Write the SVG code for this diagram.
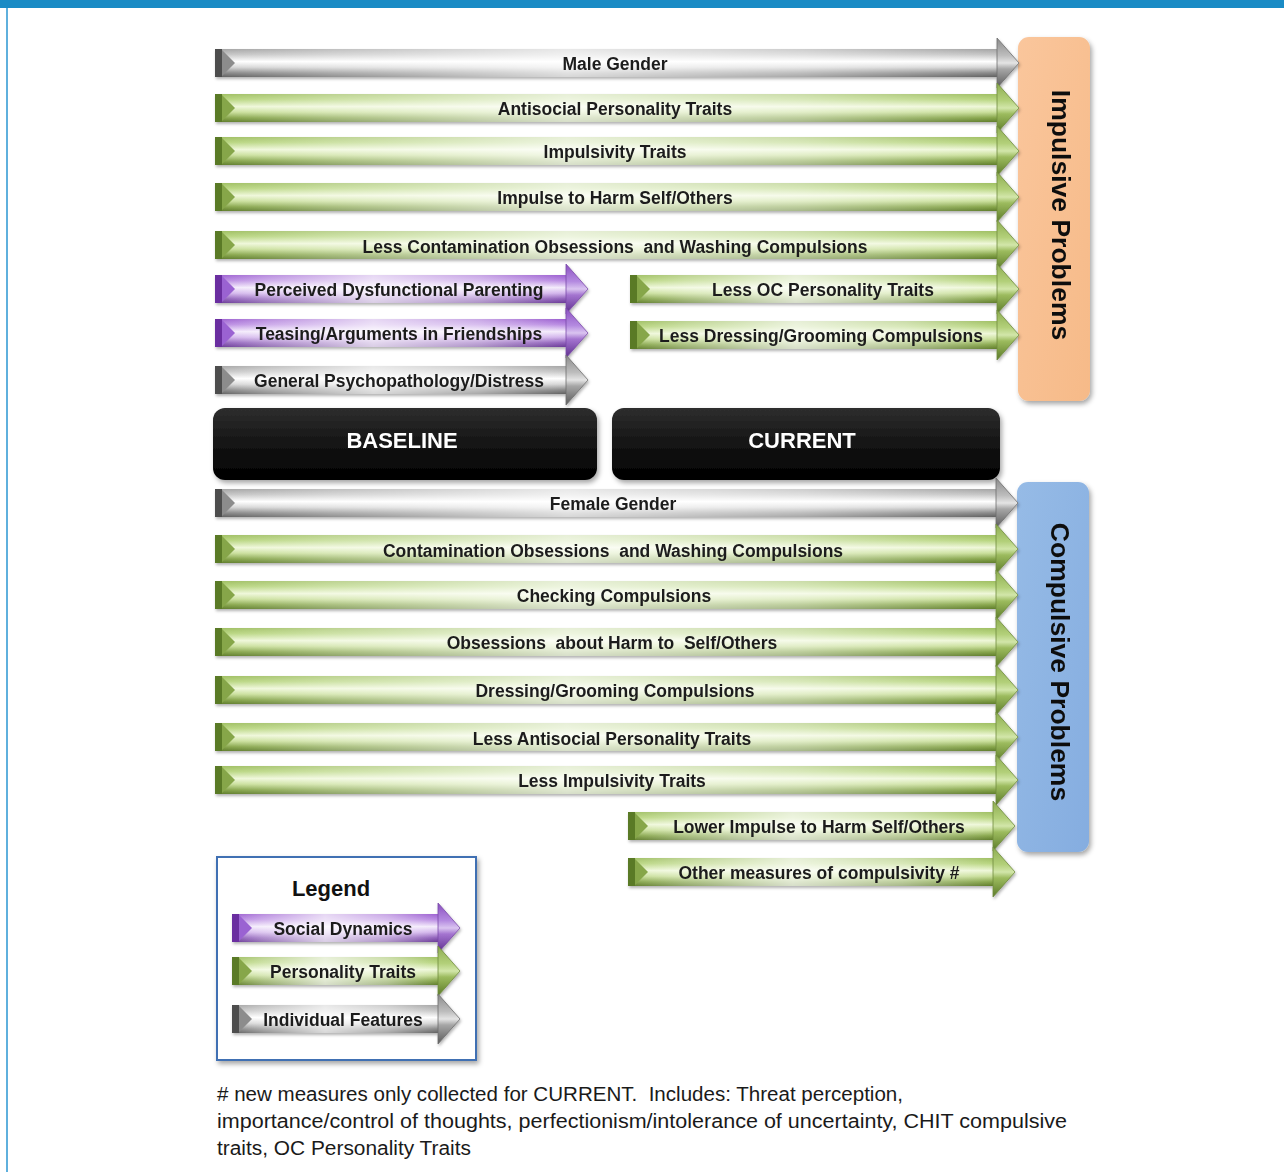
<svg xmlns="http://www.w3.org/2000/svg" xmlns:xlink="http://www.w3.org/1999/xlink" width="1284" height="1172" viewBox="0 0 1284 1172">
<defs>
  <linearGradient id="vGreen" x1="0" y1="0" x2="0" y2="1">
    <stop offset="0" stop-color="#9fbf62"/>
    <stop offset="0.2" stop-color="#b9d681"/>
    <stop offset="0.45" stop-color="#eef7d8"/>
    <stop offset="0.65" stop-color="#c9df9a"/>
    <stop offset="0.85" stop-color="#86a54a"/>
    <stop offset="1" stop-color="#5f7d2a"/>
  </linearGradient>
  <linearGradient id="vGray" x1="0" y1="0" x2="0" y2="1">
    <stop offset="0" stop-color="#a4a4a4"/>
    <stop offset="0.2" stop-color="#c6c6c6"/>
    <stop offset="0.45" stop-color="#ffffff"/>
    <stop offset="0.65" stop-color="#d6d6d6"/>
    <stop offset="0.85" stop-color="#8a8a8a"/>
    <stop offset="1" stop-color="#606060"/>
  </linearGradient>
  <linearGradient id="vPurple" x1="0" y1="0" x2="0" y2="1">
    <stop offset="0" stop-color="#9b5ed0"/>
    <stop offset="0.2" stop-color="#b98ae2"/>
    <stop offset="0.45" stop-color="#f3eafb"/>
    <stop offset="0.65" stop-color="#d2b4ec"/>
    <stop offset="0.85" stop-color="#8f5fba"/>
    <stop offset="1" stop-color="#693996"/>
  </linearGradient>
  <linearGradient id="hGreen" x1="0" y1="0" x2="0" y2="1">
    <stop offset="0" stop-color="#8dac50"/>
    <stop offset="0.35" stop-color="#b3d07a"/>
    <stop offset="0.5" stop-color="#d2e6aa"/>
    <stop offset="0.62" stop-color="#9cbb5e"/>
    <stop offset="1" stop-color="#5b7a28"/>
  </linearGradient>
  <linearGradient id="hGray" x1="0" y1="0" x2="0" y2="1">
    <stop offset="0" stop-color="#8a8a8a"/>
    <stop offset="0.35" stop-color="#bdbdbd"/>
    <stop offset="0.5" stop-color="#e4e4e4"/>
    <stop offset="0.62" stop-color="#a6a6a6"/>
    <stop offset="1" stop-color="#5a5a5a"/>
  </linearGradient>
  <linearGradient id="hPurple" x1="0" y1="0" x2="0" y2="1">
    <stop offset="0" stop-color="#8a4fc0"/>
    <stop offset="0.35" stop-color="#b48ae0"/>
    <stop offset="0.5" stop-color="#dac4f0"/>
    <stop offset="0.62" stop-color="#a474d0"/>
    <stop offset="1" stop-color="#5c2d8c"/>
  </linearGradient>
  <linearGradient id="sheen" x1="0" y1="0" x2="1" y2="0">
    <stop offset="0" stop-color="#ffffff" stop-opacity="0"/>
    <stop offset="0.15" stop-color="#ffffff" stop-opacity="0.3"/>
    <stop offset="0.45" stop-color="#ffffff" stop-opacity="0.75"/>
    <stop offset="0.75" stop-color="#ffffff" stop-opacity="0.45"/>
    <stop offset="1" stop-color="#ffffff" stop-opacity="0"/>
  </linearGradient>
  <linearGradient id="blackBox" x1="0" y1="0" x2="0" y2="1">
    <stop offset="0" stop-color="#2e2e2e"/>
    <stop offset="0.5" stop-color="#141414"/>
    <stop offset="1" stop-color="#000000"/>
  </linearGradient>
  <linearGradient id="orangeFill" x1="0" y1="0" x2="1" y2="1">
    <stop offset="0" stop-color="#fac69c"/>
    <stop offset="1" stop-color="#f6ba88"/>
  </linearGradient>
  <linearGradient id="blueFill" x1="0" y1="0" x2="1" y2="1">
    <stop offset="0" stop-color="#96bbe6"/>
    <stop offset="1" stop-color="#85ade0"/>
  </linearGradient>
  <filter id="sh" x="-5%" y="-30%" width="110%" height="170%">
    <feDropShadow dx="1" dy="2" stdDeviation="1.5" flood-color="#000" flood-opacity="0.3"/>
  </filter>
  <filter id="boxsh" x="-10%" y="-10%" width="125%" height="125%">
    <feDropShadow dx="2" dy="3" stdDeviation="2.5" flood-color="#000" flood-opacity="0.35"/>
  </filter>
  <path id="headGreen" d="M0,-25 L22,0 L0,25 Z" fill="url(#hGreen)" stroke="#6f8a3c" stroke-width="0.8"/>
  <path id="headGray" d="M0,-25 L22,0 L0,25 Z" fill="url(#hGray)" stroke="#6d6d6d" stroke-width="0.8"/>
  <path id="headPurple" d="M0,-25 L22,0 L0,25 Z" fill="url(#hPurple)" stroke="#7a4aa8" stroke-width="0.8"/>
  <g id="capGreen"><rect x="0" y="-14" width="7" height="28" fill="#5a7a26"/><polygon points="7,-13 20,0 7,13" fill="#86a64a"/></g>
  <g id="capGray"><rect x="0" y="-14" width="7" height="28" fill="#4e4e4e"/><polygon points="7,-13 20,0 7,13" fill="#8c8c8c"/></g>
  <g id="capPurple"><rect x="0" y="-14" width="7" height="28" fill="#6a2ea0"/><polygon points="7,-13 20,0 7,13" fill="#9a62d2"/></g>
</defs>
<style>
  .lbl { font-family: "Liberation Sans", Arial, sans-serif; font-weight: bold; font-size: 17.5px; fill: #1c1c1c; text-anchor: middle; white-space: pre; }
  .sg { fill: url(#vGreen); }
  .sy { fill: url(#vGray); }
  .sp { fill: url(#vPurple); }
  .sheen { fill: url(#sheen); }
  .hdr { font-family: "Liberation Sans", Arial, sans-serif; font-weight: bold; font-size: 22px; fill: #ffffff; text-anchor: middle; }
  .side { font-family: "Liberation Sans", Arial, sans-serif; font-weight: bold; font-size: 26.5px; fill: #111111; text-anchor: middle; }
  .note { font-family: "Liberation Sans", Arial, sans-serif; font-size: 20px; fill: #1a1a1a; white-space: pre; }
</style>

<!-- frame -->
<rect x="0" y="0" width="1284" height="8" fill="#1a8bc5"/>
<rect x="6" y="8" width="2" height="1164" fill="#5fb0dd"/>

<!-- outcome boxes -->
<g id="impulsive" filter="url(#boxsh)">
  <rect x="1018" y="37" width="72" height="364" rx="11" fill="url(#orangeFill)"/>
  <text class="side" transform="translate(1052,215) rotate(90)">Impulsive Problems</text>
</g>
<g id="compulsive" filter="url(#boxsh)">
  <rect x="1017" y="482" width="72" height="370" rx="11" fill="url(#blueFill)"/>
  <text class="side" transform="translate(1051,662) rotate(90)">Compulsive Problems</text>
</g>

<!-- baseline / current -->
<g id="baseline" filter="url(#boxsh)">
  <rect x="213" y="408" width="384" height="72" rx="12" fill="url(#blackBox)"/>
  <text class="hdr" x="402" y="448">BASELINE</text>
</g>
<g id="current" filter="url(#boxsh)">
  <rect x="612" y="408" width="388" height="72" rx="12" fill="url(#blackBox)"/>
  <text class="hdr" x="802" y="448">CURRENT</text>
</g>

<!-- arrows (connectors) -->
<g id="connectors">
  <!-- top full-width -->
  <g id="a-male" transform="translate(215,63)" filter="url(#sh)">
    <rect class="sy" x="0" y="-14" width="783" height="28"/><rect class="sheen" x="0" y="-14" width="783" height="28"/>
    <use href="#headGray" x="782"/><use href="#capGray"/>
    <text class="lbl" x="400" y="7">Male Gender</text>
  </g>
  <g id="a-antisocial" transform="translate(215,108)" filter="url(#sh)">
    <rect class="sg" x="0" y="-14" width="783" height="28"/><rect class="sheen" x="0" y="-14" width="783" height="28"/>
    <use href="#headGreen" x="782"/><use href="#capGreen"/>
    <text class="lbl" x="400" y="7">Antisocial Personality Traits</text>
  </g>
  <g id="a-impulsivity" transform="translate(215,151)" filter="url(#sh)">
    <rect class="sg" x="0" y="-14" width="783" height="28"/><rect class="sheen" x="0" y="-14" width="783" height="28"/>
    <use href="#headGreen" x="782"/><use href="#capGreen"/>
    <text class="lbl" x="400" y="7">Impulsivity Traits</text>
  </g>
  <g id="a-impulseharm" transform="translate(215,197)" filter="url(#sh)">
    <rect class="sg" x="0" y="-14" width="783" height="28"/><rect class="sheen" x="0" y="-14" width="783" height="28"/>
    <use href="#headGreen" x="782"/><use href="#capGreen"/>
    <text class="lbl" x="400" y="7">Impulse to Harm Self/Others</text>
  </g>
  <g id="a-lesscontam" transform="translate(215,245)" filter="url(#sh)">
    <rect class="sg" x="0" y="-14" width="783" height="28"/><rect class="sheen" x="0" y="-14" width="783" height="28"/>
    <use href="#headGreen" x="782"/><use href="#capGreen"/>
    <text class="lbl" x="400" y="8">Less Contamination Obsessions  and Washing Compulsions</text>
  </g>
  <!-- left half -->
  <g id="a-parenting" transform="translate(215,289)" filter="url(#sh)">
    <rect class="sp" x="0" y="-14" width="352" height="28"/><rect class="sheen" x="0" y="-14" width="352" height="28"/>
    <use href="#headPurple" x="351"/><use href="#capPurple"/>
    <text class="lbl" x="184" y="7">Perceived Dysfunctional Parenting</text>
  </g>
  <g id="a-teasing" transform="translate(215,333)" filter="url(#sh)">
    <rect class="sp" x="0" y="-14" width="352" height="28"/><rect class="sheen" x="0" y="-14" width="352" height="28"/>
    <use href="#headPurple" x="351"/><use href="#capPurple"/>
    <text class="lbl" x="184" y="7">Teasing/Arguments in Friendships</text>
  </g>
  <g id="a-psychopath" transform="translate(215,380)" filter="url(#sh)">
    <rect class="sy" x="0" y="-14" width="352" height="28"/><rect class="sheen" x="0" y="-14" width="352" height="28"/>
    <use href="#headGray" x="351"/><use href="#capGray"/>
    <text class="lbl" x="184" y="7">General Psychopathology/Distress</text>
  </g>
  <!-- right half top -->
  <g id="a-lessoc" transform="translate(630,289)" filter="url(#sh)">
    <rect class="sg" x="0" y="-14" width="368" height="28"/><rect class="sheen" x="0" y="-14" width="368" height="28"/>
    <use href="#headGreen" x="367"/><use href="#capGreen"/>
    <text class="lbl" x="193" y="7">Less OC Personality Traits</text>
  </g>
  <g id="a-lessdressing" transform="translate(630,335)" filter="url(#sh)">
    <rect class="sg" x="0" y="-14" width="368" height="28"/><rect class="sheen" x="0" y="-14" width="368" height="28"/>
    <use href="#headGreen" x="367"/><use href="#capGreen"/>
    <text class="lbl" x="191" y="7">Less Dressing/Grooming Compulsions</text>
  </g>
  <!-- bottom full-width -->
  <g id="a-female" transform="translate(215,503)" filter="url(#sh)">
    <rect class="sy" x="0" y="-14" width="782" height="28"/><rect class="sheen" x="0" y="-14" width="782" height="28"/>
    <use href="#headGray" x="781"/><use href="#capGray"/>
    <text class="lbl" x="398" y="7">Female Gender</text>
  </g>
  <g id="a-contam" transform="translate(215,549)" filter="url(#sh)">
    <rect class="sg" x="0" y="-14" width="782" height="28"/><rect class="sheen" x="0" y="-14" width="782" height="28"/>
    <use href="#headGreen" x="781"/><use href="#capGreen"/>
    <text class="lbl" x="398" y="8">Contamination Obsessions  and Washing Compulsions</text>
  </g>
  <g id="a-checking" transform="translate(215,595)" filter="url(#sh)">
    <rect class="sg" x="0" y="-14" width="782" height="28"/><rect class="sheen" x="0" y="-14" width="782" height="28"/>
    <use href="#headGreen" x="781"/><use href="#capGreen"/>
    <text class="lbl" x="399" y="7">Checking Compulsions</text>
  </g>
  <g id="a-obsharm" transform="translate(215,642)" filter="url(#sh)">
    <rect class="sg" x="0" y="-14" width="782" height="28"/><rect class="sheen" x="0" y="-14" width="782" height="28"/>
    <use href="#headGreen" x="781"/><use href="#capGreen"/>
    <text class="lbl" x="397" y="7">Obsessions  about Harm to  Self/Others</text>
  </g>
  <g id="a-dressing" transform="translate(215,690)" filter="url(#sh)">
    <rect class="sg" x="0" y="-14" width="782" height="28"/><rect class="sheen" x="0" y="-14" width="782" height="28"/>
    <use href="#headGreen" x="781"/><use href="#capGreen"/>
    <text class="lbl" x="400" y="7">Dressing/Grooming Compulsions</text>
  </g>
  <g id="a-lessantisocial" transform="translate(215,737)" filter="url(#sh)">
    <rect class="sg" x="0" y="-14" width="782" height="28"/><rect class="sheen" x="0" y="-14" width="782" height="28"/>
    <use href="#headGreen" x="781"/><use href="#capGreen"/>
    <text class="lbl" x="397" y="8">Less Antisocial Personality Traits</text>
  </g>
  <g id="a-lessimpulsivity" transform="translate(215,780)" filter="url(#sh)">
    <rect class="sg" x="0" y="-14" width="782" height="28"/><rect class="sheen" x="0" y="-14" width="782" height="28"/>
    <use href="#headGreen" x="781"/><use href="#capGreen"/>
    <text class="lbl" x="397" y="7">Less Impulsivity Traits</text>
  </g>
  <!-- right half bottom -->
  <g id="a-lowerimpulse" transform="translate(628,826)" filter="url(#sh)">
    <rect class="sg" x="0" y="-14" width="366" height="28"/><rect class="sheen" x="0" y="-14" width="366" height="28"/>
    <use href="#headGreen" x="365"/><use href="#capGreen"/>
    <text class="lbl" x="191" y="7">Lower Impulse to Harm Self/Others</text>
  </g>
  <g id="a-othermeasures" transform="translate(628,872)" filter="url(#sh)">
    <rect class="sg" x="0" y="-14" width="366" height="28"/><rect class="sheen" x="0" y="-14" width="366" height="28"/>
    <use href="#headGreen" x="365"/><use href="#capGreen"/>
    <text class="lbl" x="191" y="7">Other measures of compulsivity #</text>
  </g>
</g>

<!-- legend -->
<g id="legend">
  <rect x="217" y="857" width="259" height="203" fill="#ffffff" stroke="#3f6fb3" stroke-width="2" filter="url(#boxsh)"/>
  <text x="331" y="896" font-family="Liberation Sans, Arial, sans-serif" font-weight="bold" font-size="22" fill="#111" text-anchor="middle">Legend</text>
  <g id="leg-social" transform="translate(232,928)" filter="url(#sh)">
    <rect class="sp" x="0" y="-14" width="207" height="28"/><rect class="sheen" x="0" y="-14" width="207" height="28"/>
    <use href="#headPurple" x="206"/><use href="#capPurple"/>
    <text class="lbl" x="111" y="7">Social Dynamics</text>
  </g>
  <g id="leg-personality" transform="translate(232,971)" filter="url(#sh)">
    <rect class="sg" x="0" y="-14" width="207" height="28"/><rect class="sheen" x="0" y="-14" width="207" height="28"/>
    <use href="#headGreen" x="206"/><use href="#capGreen"/>
    <text class="lbl" x="111" y="7">Personality Traits</text>
  </g>
  <g id="leg-individual" transform="translate(232,1019)" filter="url(#sh)">
    <rect class="sy" x="0" y="-14" width="207" height="28"/><rect class="sheen" x="0" y="-14" width="207" height="28"/>
    <use href="#headGray" x="206"/><use href="#capGray"/>
    <text class="lbl" x="111" y="7">Individual Features</text>
  </g>
</g>

<!-- footnote -->
<g id="footnote">
  <text class="note" x="217" y="1101" textLength="686" lengthAdjust="spacingAndGlyphs"># new measures only collected for CURRENT.  Includes: Threat perception,</text>
  <text class="note" x="217" y="1128" textLength="850" lengthAdjust="spacingAndGlyphs">importance/control of thoughts, perfectionism/intolerance of uncertainty, CHIT compulsive</text>
  <text class="note" x="217" y="1155" textLength="254" lengthAdjust="spacingAndGlyphs">traits, OC Personality Traits</text>
</g>
</svg>
